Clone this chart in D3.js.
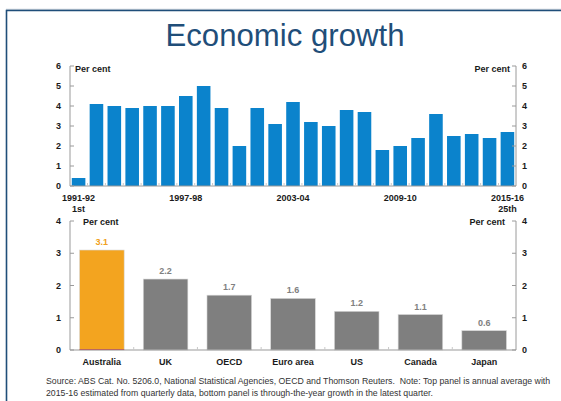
<!DOCTYPE html>
<html>
<head>
<meta charset="utf-8">
<script src="https://cdn.jsdelivr.net/npm/d3@7"></script>
<style>
  html, body { margin: 0; padding: 0; background: #fff; }
  svg { display: block; }
  text { font-family: "Liberation Sans", Arial, sans-serif; }
</style>
</head>
<body>
<svg id="chart" width="561" height="401"></svg>
<script>
// Annual GDP growth, Australia (per cent)
const years = ["1991-92","1992-93","1993-94","1994-95","1995-96","1996-97","1997-98","1998-99",
  "1999-00","2000-01","2001-02","2002-03","2003-04","2004-05","2005-06","2006-07","2007-08",
  "2008-09","2009-10","2010-11","2011-12","2012-13","2013-14","2014-15","2015-16"];
const growth = [0.4, 4.1, 4.0, 3.9, 4.0, 4.0, 4.5, 5.0, 3.9, 2.0, 3.9, 3.1, 4.2, 3.2, 3.0,
  3.8, 3.7, 1.8, 2.0, 2.4, 3.6, 2.5, 2.6, 2.4, 2.7];
const yearLabels = ["1991-92", "1997-98", "2003-04", "2009-10", "2015-16"];
const yearSubLabels = { "1991-92": "1st", "2015-16": "25th" };
const topTicks = [0, 1, 2, 3, 4, 5, 6];

// Through-the-year growth, latest quarter (per cent)
const economies = ["Australia", "UK", "OECD", "Euro area", "US", "Canada", "Japan"];
const latest = [3.1, 2.2, 1.7, 1.6, 1.2, 1.1, 0.6];
const bottomTicks = [0, 1, 2, 3, 4];

const svg = d3.select("#chart");
const axisGrey = "#9a9a9a";
const inkDark = "#1a1a1a";

// Slide frame and title
svg.append("line").attr("x1", 6).attr("x2", 561).attr("y1", 9.3).attr("y2", 9.3)
  .attr("stroke", "#b8c4d0").attr("stroke-width", 1);
svg.append("path").attr("d", "M6.5,401 V10.5 H561")
  .attr("fill", "none").attr("stroke", "#1f4e79").attr("stroke-width", 1.6);
svg.append("text").attr("x", 285).attr("y", 46)
  .attr("text-anchor", "middle")
  .attr("font-family", "'Open Sans', sans-serif")
  .attr("font-size", 31).attr("fill", "#1f4e79")
  .attr("textLength", 239).attr("lengthAdjust", "spacingAndGlyphs")
  .text("Economic growth");

const left = 70, right = 516;

function panelAxes(g, y, ticks, top, bottom) {
  // vertical axes
  [left, right].forEach(x => {
    g.append("line").attr("x1", x).attr("x2", x).attr("y1", top).attr("y2", bottom)
      .attr("stroke", axisGrey).attr("stroke-width", 1);
  });
  // baseline
  g.append("line").attr("x1", left).attr("x2", right).attr("y1", bottom).attr("y2", bottom)
    .attr("stroke", axisGrey).attr("stroke-width", 1.2);
  ticks.forEach(t => {
    const yy = y(t);
    g.append("line").attr("x1", left).attr("x2", left + 4).attr("y1", yy).attr("y2", yy)
      .attr("stroke", axisGrey);
    g.append("line").attr("x1", right - 4).attr("x2", right).attr("y1", yy).attr("y2", yy)
      .attr("stroke", axisGrey);
    g.append("text").attr("x", 61).attr("y", yy).attr("dy", "0.35em")
      .attr("text-anchor", "end").attr("font-size", 9).attr("font-weight", "bold")
      .attr("fill", inkDark).text(t);
    g.append("text").attr("x", 522).attr("y", yy).attr("dy", "0.35em")
      .attr("text-anchor", "start").attr("font-size", 9).attr("font-weight", "bold")
      .attr("fill", inkDark).text(t);
  });
}

// ---- Top panel: annual growth ----
const gTop = svg.append("g");
const xTop = d3.scaleBand().domain(years).range([left, right]).paddingInner(0.24).paddingOuter(0.1);
const yTop = d3.scaleLinear().domain([0, 6]).range([186, 66]);

gTop.selectAll("rect.bar").data(years).join("rect")
  .attr("class", "bar")
  .attr("x", d => xTop(d))
  .attr("width", xTop.bandwidth())
  .attr("y", (d, i) => yTop(growth[i]))
  .attr("height", (d, i) => yTop(0) - yTop(growth[i]))
  .attr("fill", "#0b83cc");

panelAxes(gTop, yTop, topTicks, 66, 186);

// small ticks between categories on the baseline
const stepTop = xTop.step();
years.slice(1).forEach(d => {
  const xx = xTop(d) - (stepTop - xTop.bandwidth()) / 2;
  gTop.append("line").attr("x1", xx).attr("x2", xx).attr("y1", 186).attr("y2", 183)
    .attr("stroke", "#c8c8c8");
});

yearLabels.forEach(d => {
  const cx = xTop(d) + xTop.bandwidth() / 2;
  gTop.append("text").attr("x", cx).attr("y", 201).attr("text-anchor", "middle")
    .attr("font-size", 9).attr("font-weight", "bold").attr("fill", inkDark).text(d);
  if (yearSubLabels[d]) {
    gTop.append("text").attr("x", cx).attr("y", 211.5).attr("text-anchor", "middle")
      .attr("font-size", 9).attr("font-weight", "bold").attr("fill", inkDark).text(yearSubLabels[d]);
  }
});

gTop.append("text").attr("x", 75).attr("y", 71.5).attr("font-size", 9)
  .attr("font-weight", "bold").attr("fill", inkDark).text("Per cent");
gTop.append("text").attr("x", 510).attr("y", 71.5).attr("text-anchor", "end").attr("font-size", 9)
  .attr("font-weight", "bold").attr("fill", inkDark).text("Per cent");

// ---- Bottom panel: latest through-the-year growth ----
const gBot = svg.append("g");
const xBot = d3.scaleBand().domain(economies).range([left, right]).paddingInner(0.3).paddingOuter(0.15);
const yBot = d3.scaleLinear().domain([0, 4]).range([350, 221]);
const barColour = (d, i) => i === 0 ? "#f3a41f" : "#7f7f7f";

gBot.selectAll("rect.bar").data(economies).join("rect")
  .attr("class", "bar")
  .attr("x", d => xBot(d))
  .attr("width", xBot.bandwidth())
  .attr("y", (d, i) => yBot(latest[i]))
  .attr("height", (d, i) => yBot(0) - yBot(latest[i]))
  .attr("fill", barColour)
  .attr("stroke", "#d8d8d8").attr("stroke-width", 0.6);

// red base line under the Australian bar
gBot.append("line")
  .attr("x1", xBot("Australia")).attr("x2", xBot("Australia") + xBot.bandwidth())
  .attr("y1", 349.5).attr("y2", 349.5).attr("stroke", "#d9362b").attr("stroke-width", 1);

panelAxes(gBot, yBot, bottomTicks, 221, 350);

const stepBot = xBot.step();
economies.slice(1).forEach(d => {
  const xx = xBot(d) - (stepBot - xBot.bandwidth()) / 2;
  gBot.append("line").attr("x1", xx).attr("x2", xx).attr("y1", 350).attr("y2", 347)
    .attr("stroke", "#c8c8c8");
});

gBot.selectAll("text.val").data(economies).join("text")
  .attr("class", "val")
  .attr("x", d => xBot(d) + xBot.bandwidth() / 2)
  .attr("y", (d, i) => yBot(latest[i]) - 5)
  .attr("text-anchor", "middle").attr("font-size", 9).attr("font-weight", "bold")
  .attr("fill", (d, i) => i === 0 ? "#f0a020" : "#808080")
  .text((d, i) => latest[i].toFixed(1));

gBot.selectAll("text.cat").data(economies).join("text")
  .attr("class", "cat")
  .attr("x", d => xBot(d) + xBot.bandwidth() / 2)
  .attr("y", 364.5)
  .attr("text-anchor", "middle").attr("font-size", 9).attr("font-weight", "bold")
  .attr("fill", inkDark).text(d => d);

gBot.append("text").attr("x", 83).attr("y", 225).attr("font-size", 9)
  .attr("font-weight", "bold").attr("fill", inkDark).text("Per cent");
gBot.append("text").attr("x", 505).attr("y", 225).attr("text-anchor", "end").attr("font-size", 9)
  .attr("font-weight", "bold").attr("fill", inkDark).text("Per cent");

// Source and notes: the first line sets the font size so it spans 46..551
const notes = [
  "Source: ABS Cat. No. 5206.0, National Statistical Agencies, OECD and Thomson Reuters.  Note: Top panel is annual average with",
  "2015-16 estimated from quarterly data, bottom panel is through-the-year growth in the latest quarter."
];
const noteNodes = notes.map((t, i) =>
  svg.append("text").attr("x", 46).attr("y", 384 + i * 11.5)
    .attr("font-size", 8).attr("fill", "#333")
    .style("white-space", "pre").text(t));
const firstWidth = noteNodes[0].node().getComputedTextLength();
const noteSize = 8 * 505 / firstWidth;
noteNodes.forEach(n => n.attr("font-size", noteSize));
</script>
</body>
</html>
